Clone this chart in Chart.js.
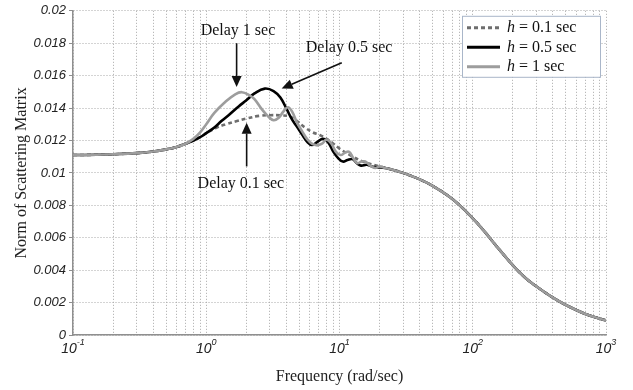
<!DOCTYPE html>
<html>
<head>
<meta charset="utf-8">
<script src="https://cdn.jsdelivr.net/npm/chart.js@4.4.1/dist/chart.umd.min.js"></script>
<style>
  html, body { margin: 0; padding: 0; background: #fff; }
</style>
</head>
<body>
<canvas id="normChart" width="633" height="390"></canvas>
<script>
// shared part of the three curves (low and high frequency)
const lowFreq = [0.1, 0.15, 0.2, 0.3, 0.4, 0.5, 0.6, 0.7];
const lowVal  = [0.0111, 0.01112, 0.01115, 0.01122, 0.01132, 0.01145, 0.0116, 0.0118];

const highFreq = [30, 40, 50, 70, 100, 125, 150, 200, 250, 300, 400, 500, 700, 1000];
const highVal  = [0.0100, 0.0096, 0.0092, 0.0084, 0.0072, 0.0063, 0.0055, 0.0043, 0.0035, 0.0030, 0.0023, 0.00185, 0.0013, 0.0009];

// h = 0.1 sec
const freq01 = [0.8, 0.9, 1, 1.2, 1.4, 1.7, 2, 2.5, 3, 3.6, 4.2, 4.8, 5.5, 6.3, 7.1, 8, 9, 10, 12, 15, 20, 25];
const val01  = [0.0120, 0.0122, 0.01245, 0.0128, 0.0130, 0.0132, 0.01335, 0.01352, 0.01356, 0.01355, 0.01349, 0.0132, 0.0128, 0.0125, 0.01234, 0.0121, 0.0118, 0.0115, 0.0111, 0.0107, 0.0104, 0.0102];

// h = 0.5 sec
const freq05 = [0.8, 0.9, 1, 1.15, 1.3, 1.5, 1.75, 2, 2.3, 2.75, 3.2, 3.6, 4, 4.4, 4.8, 5.3, 5.7, 6.2, 6.8, 7.5, 8.2, 9, 9.8, 10.6, 11.5, 12.5, 13.5, 14.5, 16, 17.5, 19, 22, 25];
const val05  = [0.0120, 0.0122, 0.01245, 0.0128, 0.0132, 0.01362, 0.0141, 0.01448, 0.0149, 0.0152, 0.01505, 0.01465, 0.01396, 0.0133, 0.01284, 0.0123, 0.01193, 0.01172, 0.0119, 0.0121, 0.0119, 0.0113, 0.0109, 0.0107, 0.0108, 0.01085, 0.0106, 0.01045, 0.0105, 0.0104, 0.01035, 0.0103, 0.0102];

// h = 1 sec
const freq1 = [0.8, 0.9, 1, 1.15, 1.4, 1.65, 1.85, 2.1, 2.3, 2.6, 2.9, 3.2, 3.5, 3.8, 4.1, 4.4, 4.8, 5.3, 5.7, 6.2, 6.8, 7.4, 8, 8.7, 9.4, 10.2, 11, 11.8, 12.7, 13.6, 14.6, 15.6, 17, 18.5, 20, 22, 25];
const val1  = [0.0121, 0.0125, 0.0130, 0.0137, 0.0144, 0.01485, 0.01498, 0.0148, 0.01455, 0.01395, 0.0135, 0.01325, 0.0134, 0.0138, 0.01405, 0.0138, 0.0131, 0.0125, 0.0121, 0.0118, 0.0117, 0.0118, 0.01205, 0.0118, 0.0113, 0.0111, 0.01125, 0.0113, 0.0109, 0.0106, 0.0107, 0.0107, 0.01045, 0.0103, 0.0104, 0.0103, 0.0102];

const seriesNames = ['0.1 sec', '0.5 sec', '1 sec'];

const xDecades = [0.1, 1, 10, 100, 1000];
const xTickExp = ['-1', '0', '1', '2', '3'];
const yTicks = [0, 0.002, 0.004, 0.006, 0.008, 0.01, 0.012, 0.014, 0.016, 0.018, 0.02];

// annotations, in data coordinates
const noteText   = ['Delay 1 sec', 'Delay 0.5 sec', 'Delay 0.1 sec'];
const noteAt     = [[1.73, 0.01875], [11.8, 0.01772], [1.82, 0.0093]];
const arrowStart = [[1.69, 0.0180], [10.4, 0.0168], [2.01, 0.0104]];
const arrowEnd   = [[1.69, 0.0153], [3.68, 0.0152], [2.01, 0.0131]];

function makePoints(fs, vs) {
  let pts = [];
  for (let i = 0; i < fs.length; i++) pts.push({x: fs[i], y: vs[i]});
  return pts;
}
function fullCurve(fs, vs) {
  return makePoints(lowFreq, lowVal).concat(makePoints(fs, vs), makePoints(highFreq, highVal));
}

const lineColors = ['#6e6e6e', '#000000', '#9d9d9d'];
const lineDash = [[4, 3], [], []];
const gridColor = '#a8a8a8';

// legend box drawn by hand (italic h in the label)
const legendBox = {
  id: 'legendBox',
  afterDraw(chart) {
    const ctx = chart.ctx;
    const a = chart.chartArea;
    const w = 138, h = 61;
    const left = a.right - w - 6, top = a.top + 5;
    ctx.save();
    ctx.fillStyle = '#fff';
    ctx.fillRect(left, top, w, h);
    ctx.strokeStyle = '#a9b6c9';
    ctx.lineWidth = 1;
    ctx.strokeRect(left + 0.5, top + 0.5, w, h);
    for (let i = 0; i < 3; i++) {
      const y = top + 12 + i * 19.5;
      ctx.beginPath();
      ctx.setLineDash(lineDash[i]);
      ctx.strokeStyle = lineColors[i];
      ctx.lineWidth = 3;
      ctx.moveTo(left + 5, y);
      ctx.lineTo(left + 38, y);
      ctx.stroke();
      ctx.setLineDash([]);
      ctx.fillStyle = '#111';
      ctx.textBaseline = 'middle';
      ctx.font = 'italic 16px "Liberation Serif"';
      ctx.fillText('h', left + 45, y);
      const hw = ctx.measureText('h').width;
      ctx.font = '16px "Liberation Serif"';
      ctx.fillText(' = ' + seriesNames[i], left + 45 + hw, y);
    }
    ctx.restore();
  }
};

// x tick labels as 10 with a raised exponent
const decadeLabels = {
  id: 'decadeLabels',
  afterDraw(chart) {
    const ctx = chart.ctx;
    const xs = chart.scales.x;
    const yBase = chart.chartArea.bottom + 18;
    ctx.save();
    ctx.fillStyle = '#222';
    ctx.textBaseline = 'alphabetic';
    for (let i = 0; i < xDecades.length; i++) {
      const px = xs.getPixelForValue(xDecades[i]);
      ctx.font = 'italic 14px "Liberation Sans"';
      const bw = ctx.measureText('10').width;
      ctx.font = 'italic 9px "Liberation Sans"';
      const ew = ctx.measureText(xTickExp[i]).width;
      const x0 = px - (bw + ew) / 2;
      ctx.font = 'italic 14px "Liberation Sans"';
      ctx.fillText('10', x0, yBase);
      ctx.font = 'italic 9px "Liberation Sans"';
      ctx.fillText(xTickExp[i], x0 + bw, yBase - 8);
    }
    ctx.restore();
  }
};

const notes = {
  id: 'notes',
  afterDatasetsDraw(chart) {
    const ctx = chart.ctx;
    const xs = chart.scales.x, ys = chart.scales.y;
    ctx.save();
    ctx.fillStyle = '#111';
    ctx.strokeStyle = '#111';
    ctx.font = '16px "Liberation Serif"';
    ctx.textAlign = 'center';
    ctx.textBaseline = 'middle';
    for (let i = 0; i < noteText.length; i++) {
      ctx.fillText(noteText[i], xs.getPixelForValue(noteAt[i][0]), ys.getPixelForValue(noteAt[i][1]));
      const x1 = xs.getPixelForValue(arrowStart[i][0]), y1 = ys.getPixelForValue(arrowStart[i][1]);
      const x2 = xs.getPixelForValue(arrowEnd[i][0]), y2 = ys.getPixelForValue(arrowEnd[i][1]);
      const ang = Math.atan2(y2 - y1, x2 - x1);
      const hl = 11, hw = 5;
      ctx.lineWidth = 1.6;
      ctx.beginPath();
      ctx.moveTo(x1, y1);
      ctx.lineTo(x2 - hl * Math.cos(ang), y2 - hl * Math.sin(ang));
      ctx.stroke();
      ctx.beginPath();
      ctx.moveTo(x2, y2);
      ctx.lineTo(x2 - hl * Math.cos(ang) + hw * Math.sin(ang), y2 - hl * Math.sin(ang) - hw * Math.cos(ang));
      ctx.lineTo(x2 - hl * Math.cos(ang) - hw * Math.sin(ang), y2 - hl * Math.sin(ang) + hw * Math.cos(ang));
      ctx.closePath();
      ctx.fill();
    }
    ctx.restore();
  }
};

const ctxNorm = document.getElementById('normChart').getContext('2d');
const normChart = new Chart(ctxNorm, {
  type: 'line',
  data: {
    datasets: [
      { label: 'h = 0.1 sec', data: fullCurve(freq01, val01), borderColor: lineColors[0], borderWidth: 2.6, borderDash: lineDash[0], order: 3 },
      { label: 'h = 0.5 sec', data: fullCurve(freq05, val05), borderColor: lineColors[1], borderWidth: 2.6, order: 2 },
      { label: 'h = 1 sec', data: fullCurve(freq1, val1), borderColor: lineColors[2], borderWidth: 2.6, order: 1 }
    ]
  },
  options: {
    responsive: false,
    animation: false,
    devicePixelRatio: 1,
    layout: { padding: { left: 0, top: 8, right: 27, bottom: 0 } },
    elements: {
      point: { radius: 0 },
      line: { tension: 0.4, fill: false }
    },
    plugins: {
      legend: { display: false },
      tooltip: { enabled: false }
    },
    scales: {
      x: {
        type: 'logarithmic',
        min: 0.1,
        max: 1000,
        afterBuildTicks(scale) {
          let t = [];
          for (let e = -1; e < 3; e++) {
            for (let m = 1; m < 10; m++) t.push({value: m * Math.pow(10, e)});
          }
          t.push({value: 1000});
          scale.ticks = t;
        },
        afterFit(scale) { scale.height = 55; },
        ticks: {
          autoSkip: false,
          maxRotation: 0,
          padding: 5,
          color: 'rgba(0,0,0,0)',
          font: { size: 13 },
          callback() { return ''; }
        },
        grid: { color: gridColor, lineWidth: 1, drawTicks: false },
        border: { display: true, color: '#8f8f8f', width: 1.5, dash: [1, 2] },
        title: {
          display: true,
          text: 'Frequency (rad/sec)',
          color: '#222',
          font: { family: 'Liberation Serif', size: 16 },
          padding: { top: 4, bottom: 4 }
        }
      },
      y: {
        type: 'linear',
        min: 0,
        max: 0.02,
        afterBuildTicks(scale) {
          scale.ticks = yTicks.map(v => ({value: v}));
        },
        afterFit(scale) { scale.width = 73; },
        ticks: {
          padding: 3,
          color: '#222',
          font: { family: 'Liberation Sans', style: 'italic', size: 13 },
          callback(value) { return String(Number(value.toFixed(3))); }
        },
        grid: { color: gridColor, lineWidth: 1, drawTicks: true, tickLength: 4, tickColor: '#8f8f8f', tickBorderDash: [] },
        border: { display: true, color: '#8f8f8f', width: 1.5, dash: [1, 2] },
        title: {
          display: true,
          text: 'Norm of Scattering Matrix',
          color: '#222',
          font: { family: 'Liberation Serif', size: 16 },
          padding: { top: 12, bottom: 4 }
        }
      }
    }
  },
  plugins: [notes, legendBox, decadeLabels]
});
</script>
</body>
</html>
